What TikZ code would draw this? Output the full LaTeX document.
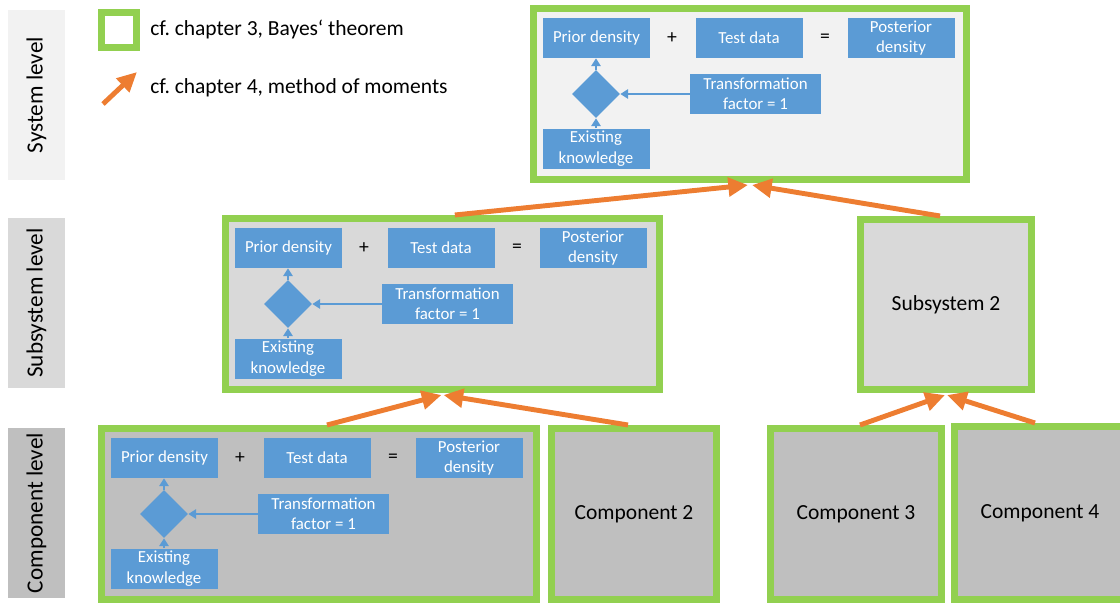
\documentclass[tikz,border=0pt]{standalone}
\usepackage{fontspec}
\setmainfont{Carlito}
\usepackage{xcolor}
\usepackage{tikz}
\usetikzlibrary{shapes.geometric, arrows.meta, calc, positioning, fit}

\definecolor{bluebox}{HTML}{5B9BD5}
\definecolor{greenframe}{HTML}{92D050}
\definecolor{orangearrow}{HTML}{ED7D31}
\definecolor{sysgray}{HTML}{F2F2F2}
\definecolor{subgray}{HTML}{D9D9D9}
\definecolor{compgray}{HTML}{BFBFBF}

\newcommand{\px}{0.025cm}

% one Bayes block: prefix, shift x, shift y
\newcommand{\bayesblock}[3]{%
	\node[blk] (#1prior) at ({596.5+(#2)},{38+(#3)}) {Prior density};
	\node[opsym] (#1plus) at ({672+(#2)},{38+(#3)}) {+};
	\node[blk] (#1test) at ({749+(#2)},{38+(#3)}) {Test data};
	\node[opsym] (#1eq) at ({825+(#2)},{38+(#3)}) {=};
	\node[blk] (#1post) at ({901+(#2)},{38+(#3)}) {Posterior\\density};
	\node[blk, minimum width=131*\px] (#1trans) at ({755.5+(#2)},{94+(#3)}) {Transformation\\factor = 1};
	\node[decide] (#1dia) at ({596+(#2)},{94+(#3)}) {};
	\node[blk] (#1know) at ({596+(#2)},{148.5+(#3)}) {Existing\\knowledge};
	\draw[flow] (#1know.north) -- (#1dia.south);
	\draw[flow] (#1dia.north) -- (#1dia.north |- #1prior.south);
	\draw[flow] (#1trans.west) -- (#1dia.east);
}

\begin{document}
\begin{tikzpicture}[x=0.025cm, y=-0.025cm,
		moment/.style = {draw=orangearrow, line width=3.5pt, -{Triangle[length=14pt,width=13pt]}},
		flow/.style = {draw=bluebox, line width=1.4pt, -{Triangle[length=5.5pt,width=6.5pt]}}]
	\tikzset{blk/.style={fill=bluebox, inner sep=0pt, minimum width=107*\px, minimum height=40*\px, text=white, align=center, font=\fontsize{12}{14.5}\selectfont}}
	\tikzset{opsym/.style={inner sep=0pt, font=\fontsize{14}{16}\selectfont}}
	\tikzset{decide/.style={diamond, fill=bluebox, inner sep=0pt, minimum width=1.2cm, minimum height=1.2cm}}
	\tikzset{frame/.style={draw=greenframe, line width=5pt, inner sep=0pt, align=center, font=\fontsize{15.3}{17}\selectfont}}
	\tikzset{lvl/.style={inner sep=0pt, minimum width=57*\px, minimum height=170*\px}}
	\tikzset{lvltext/.style={rotate=90, font=\fontsize{16.5}{18}\selectfont}}
	\tikzset{legtext/.style={anchor=west, inner sep=0pt, font=\fontsize{15.3}{17}\selectfont}}

	\useasboundingbox (0,0) rectangle (1120,605);

	% Levels
	\node[lvl, fill=sysgray] (lsys) at (36.5,95) {};
	\node[lvltext] at (lsys.center) (lsystext) {System level};
	\node[lvl, fill=subgray] (lsub) at (36.5,303) {};
	\node[lvltext] at (lsub.center) (lsubtext) {Subsystem level};
	\node[lvl, fill=compgray] (lcomp) at (36.5,513) {};
	\node[lvltext] at (lcomp.center) (lcomptext) {Component level};

	% Legend
	\node[frame, fill=white, minimum width=35*\px, minimum height=35*\px] (legbox) at (119,30) {};
	\node[legtext] at (150,29) (legbayes) {cf.\ chapter 3, Bayes‘ theorem};
	\coordinate (legfrom) at (103,104);
	\coordinate (legto) at (137,72);
	\draw[moment] (legfrom) -- (legto);
	\node[legtext] at (150,88) (legmom) {cf.\ chapter 4, method of moments};

	% System
	\node[frame, fill=sysgray, fit={(533.5,8.5) (966.5,179.5)}] (sys) {};
	\bayesblock{s}{0}{0}

	% Subsystems
	\node[frame, fill=subgray, fit={(225.5,218.5) (659.5,389.5)}] (sub1) {};
	\bayesblock{u}{-308}{210}
	\node[frame, fill=subgray, minimum width=171*\px, minimum height=170*\px] (sub2) at (946,304.5) {Subsystem 2};

	% Components
	\node[frame, fill=compgray, fit={(101.5,428.5) (536.5,599.5)}] (comp1) {};
	\bayesblock{c}{-432}{420}
	\node[frame, fill=compgray, minimum width=165*\px, minimum height=171*\px] (comp2) at (634,514) {Component 2};
	\node[frame, fill=compgray, minimum width=171*\px, minimum height=171*\px] (comp3) at (856,514) {Component 3};
	\node[frame, fill=compgray, minimum width=171*\px, minimum height=173*\px] (comp4) at (1040,513) {Component 4};

	% Method of moments
	\draw[moment] ($(sub1.north west)!0.528!(sub1.north east)$) -- ($(sys.south)+(-2,2)$);
	\draw[moment] ($(sub2.north)+(-6,0)$) -- ($(sys.south)+(2,2)$);
	\draw[moment] ($(comp1.north west)!0.518!(comp1.north east)$) -- ($(sub1.south)+(-1,2)$);
	\draw[moment] ($(comp2.north)+(-6,0)$) -- ($(sub1.south)+(1,2)$);
	\draw[moment] ($(comp3.north)+(4,0)$) -- ($(sub2.south)+(-1,2)$);
	\draw[moment] ($(comp4.north)+(-5,0)$) -- ($(sub2.south)+(1,2)$);

\end{tikzpicture}
\end{document}
